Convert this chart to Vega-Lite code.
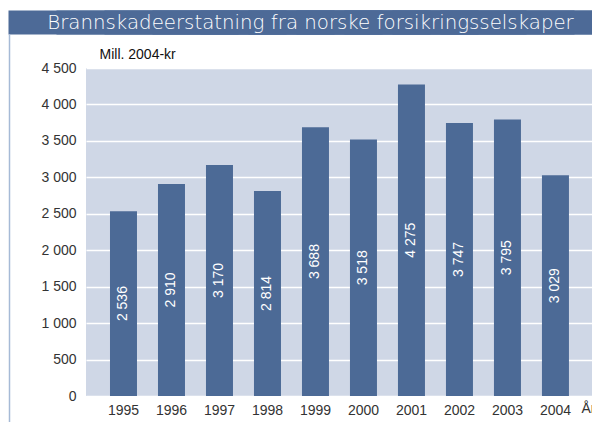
{
  "$schema": "https://vega.github.io/schema/vega-lite/v6.json",
  "width": 506,
  "height": 328,
  "autosize": {"type": "none"},
  "padding": {"left": 86, "top": 68, "right": 0, "bottom": 26},
  "background": "white",
  "data": {
    "values": [
      {"year": "1995", "value": 2536},
      {"year": "1996", "value": 2910},
      {"year": "1997", "value": 3170},
      {"year": "1998", "value": 2814},
      {"year": "1999", "value": 3688},
      {"year": "2000", "value": 3518},
      {"year": "2001", "value": 4275},
      {"year": "2002", "value": 3747},
      {"year": "2003", "value": 3795},
      {"year": "2004", "value": 3029}
    ]
  },
  "layer": [
    {
      "mark": {"type": "bar", "color": "#4c6a96"},
      "encoding": {
        "x": {
          "field": "year",
          "type": "ordinal",
          "scale": {"paddingInner": 0.4375, "paddingOuter": 0.49, "align": 0.51},
          "axis": {
            "orient": "bottom",
            "domain": false,
            "ticks": false,
            "tickSize": 0,
            "labelPadding": 7,
            "labelAngle": 0,
            "labelFont": "Liberation Sans",
            "labelFontSize": 14,
            "labelColor": "#333333",
            "title": "År",
            "titleX": 495,
            "titleY": 12,
            "titleAlign": "left",
            "titleBaseline": "middle",
            "titleFont": "Liberation Sans",
            "titleFontSize": 14,
            "titleFontWeight": "normal",
            "titleColor": "#333333"
          }
        },
        "y": {
          "field": "value",
          "type": "quantitative",
          "scale": {"domain": [-356.7, 4966.5], "range": [354, -34], "nice": false, "zero": false},
          "axis": {
            "orient": "left",
            "offset": 77,
            "values": [0, 500, 1000, 1500, 2000, 2500, 3000, 3500, 4000, 4500],
            "format": ",d",
            "domain": true,
            "domainColor": "#a6bad6",
            "domainWidth": 1.5,
            "ticks": false,
            "tickSize": 0,
            "labelPadding": -67,
            "labelAlign": "right",
            "labelBaseline": "middle",
            "labelFont": "Liberation Sans",
            "labelFontSize": 14,
            "labelColor": "#333333",
            "grid": true,
            "gridColor": "#ffffff",
            "gridWidth": 1.5,
            "gridOpacity": 1,
            "title": "Mill. 2004-kr",
            "titleAngle": 0,
            "titleX": 90,
            "titleY": -10,
            "titleAlign": "left",
            "titleBaseline": "alphabetic",
            "titleFont": "Liberation Sans",
            "titleFontSize": 14,
            "titleFontWeight": "normal",
            "titleColor": "#111111"
          }
        }
      }
    },
    {
      "mark": {"type": "text", "angle": 270, "color": "#ffffff", "font": "Liberation Sans", "fontSize": 14, "align": "center", "baseline": "middle"},
      "encoding": {
        "x": {
          "field": "year",
          "type": "ordinal",
          "axis": {
            "orient": "top",
            "offset": 34,
            "domain": false,
            "labels": false,
            "grid": false,
            "ticks": true,
            "bandPosition": 0.5,
            "tickSize": 24,
            "tickWidth": 230,
            "tickColor": "#4d6a97",
            "tickOpacity": 1,
            "title": "Brannskadeerstatning fra norske forsikringsselskaper",
            "titleX": 224,
            "titleY": -6,
            "titleAlign": "center",
            "titleBaseline": "alphabetic",
            "titleFont": "DejaVu Sans",
            "titleFontSize": 19.8,
            "titleFontWeight": 200,
            "titleColor": "#ffffff"
          }
        },
        "y": {
          "field": "value",
          "type": "quantitative",
          "scale": {"domain": [-713.4, 9933], "range": [354, -34], "nice": false, "zero": false},
          "axis": null
        },
        "text": {"field": "value", "type": "quantitative", "format": ",d"}
      }
    }
  ],
  "resolve": {
    "scale": {"y": "independent"},
    "axis": {"x": "independent", "y": "independent"}
  },
  "config": {
    "view": {"fill": "#cfd7e6", "stroke": null},
    "locale": {
      "number": {"decimal": ",", "thousands": " ", "grouping": [3], "currency": ["", " kr"]}
    }
  }
}
